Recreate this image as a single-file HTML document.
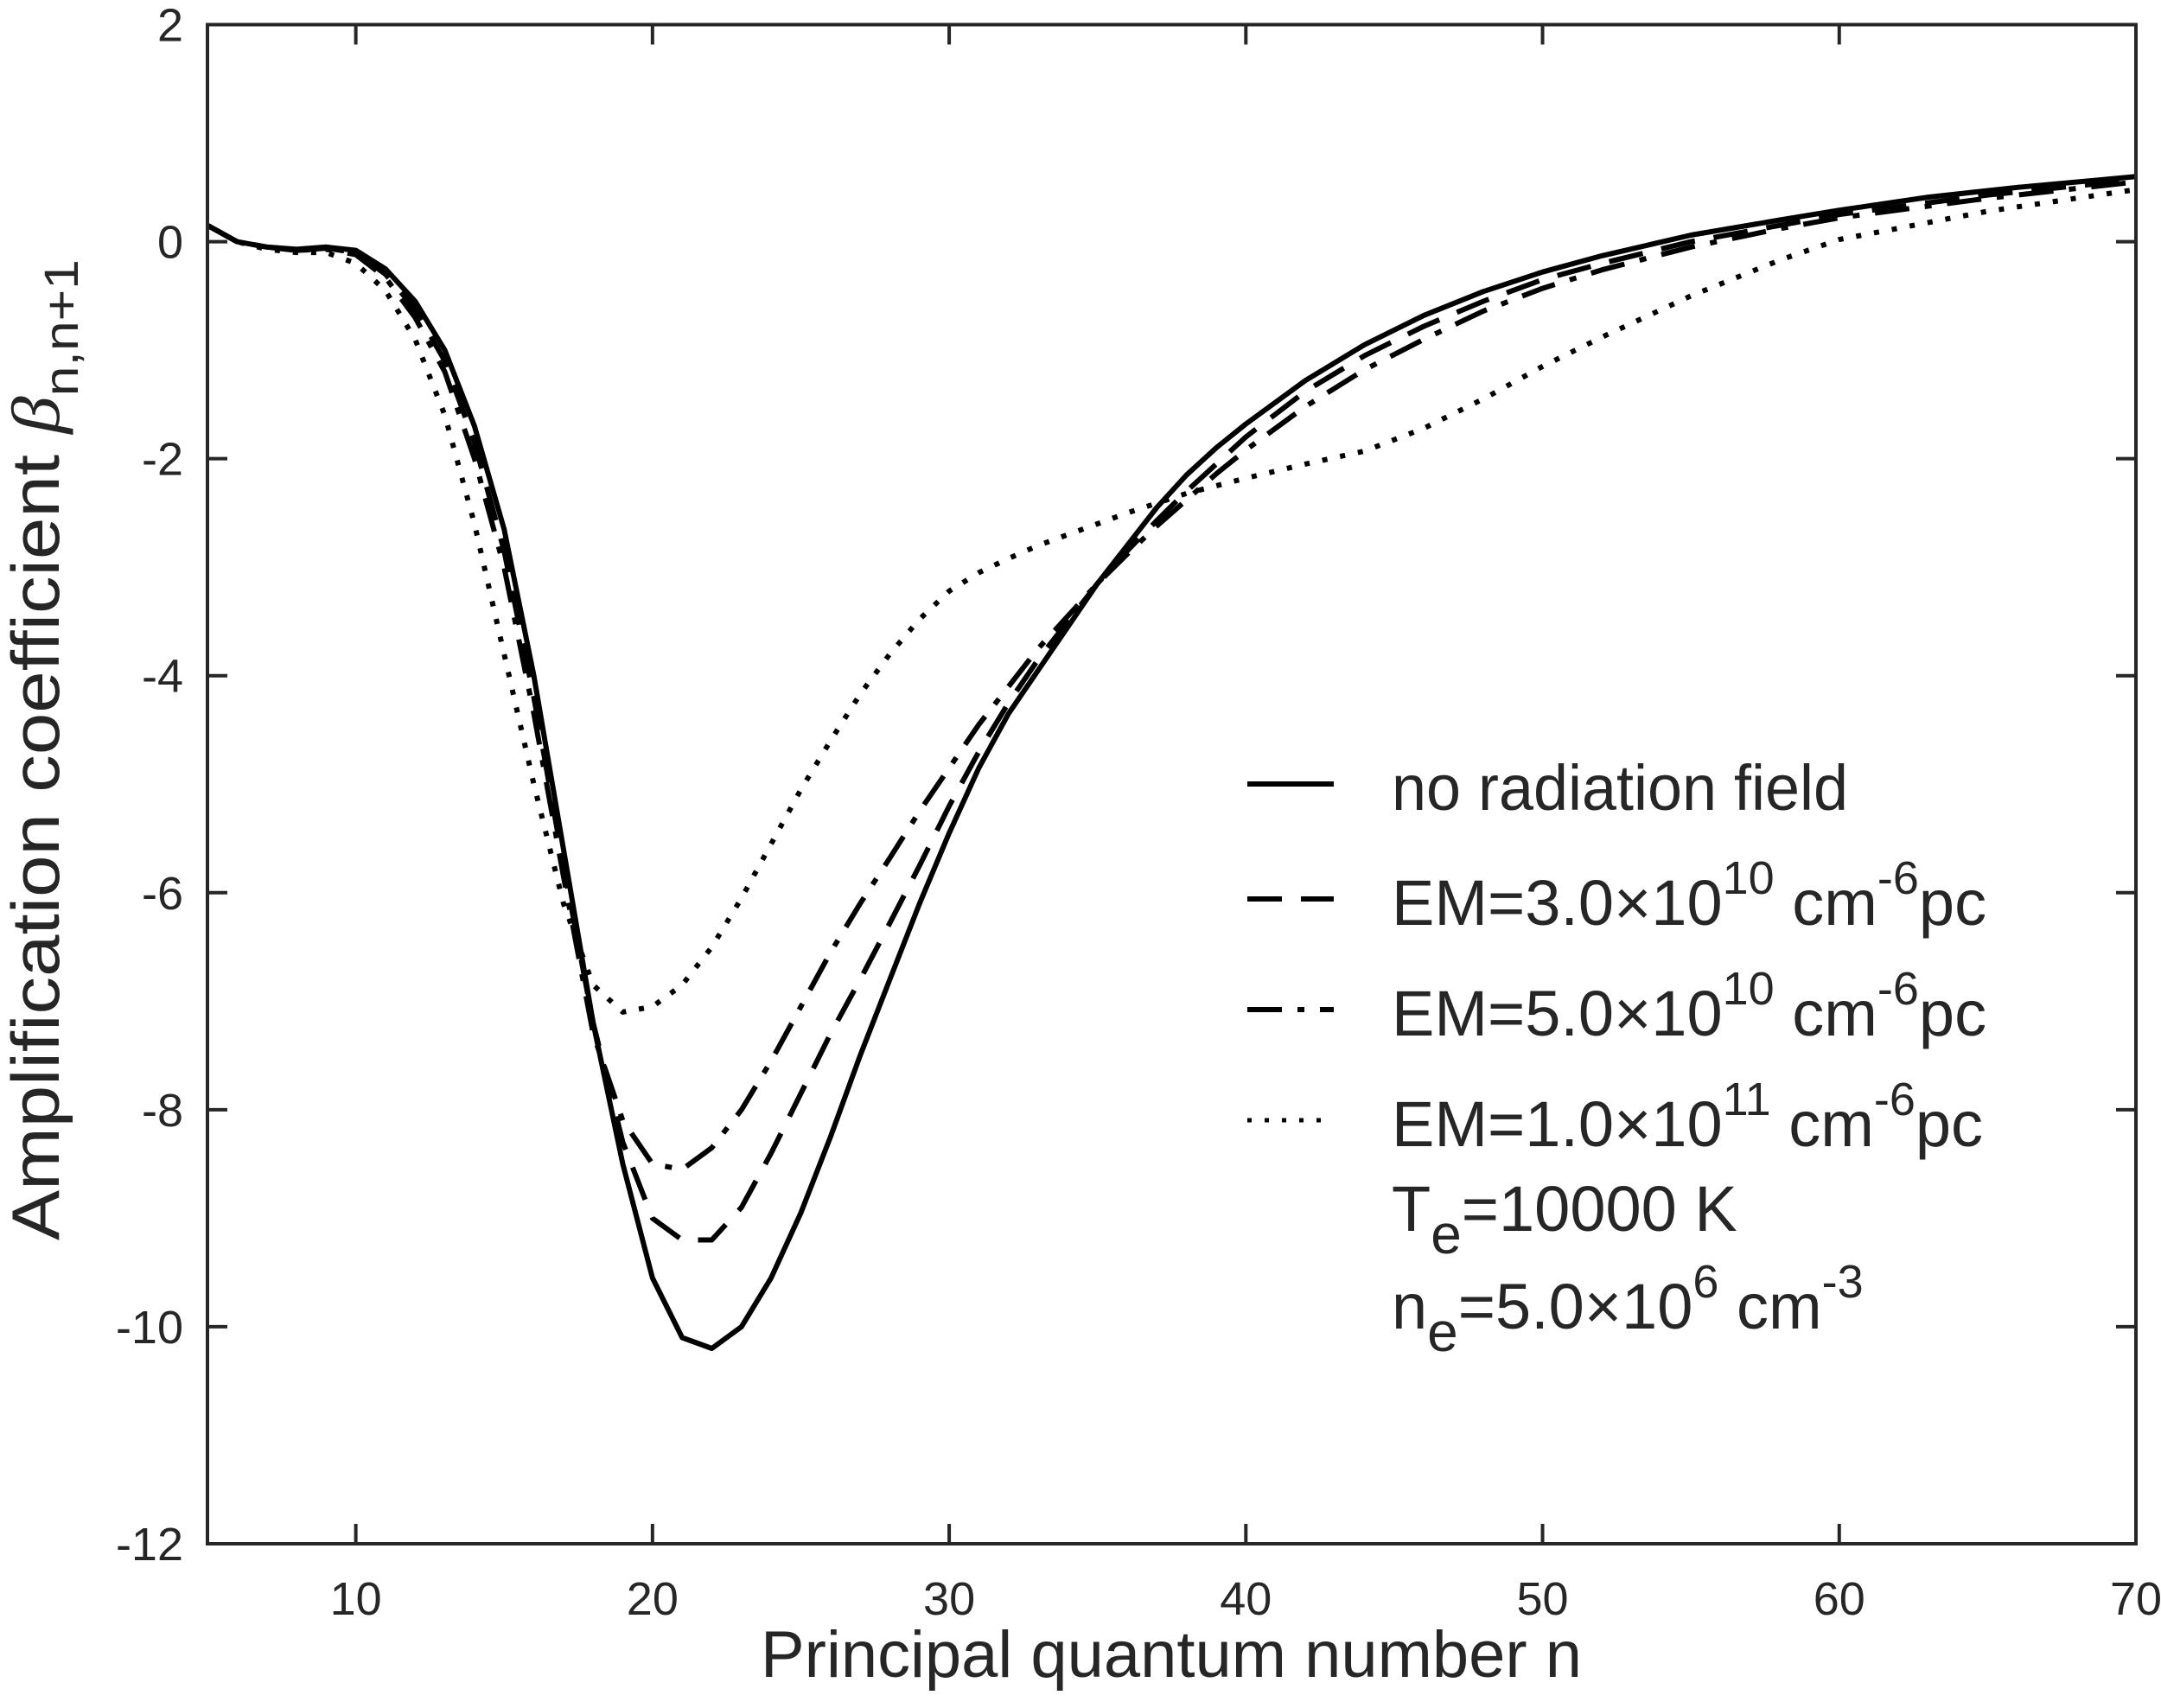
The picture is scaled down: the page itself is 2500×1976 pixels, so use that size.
<!DOCTYPE html>
<html><head><meta charset="utf-8"><style>
html,body{margin:0;padding:0;background:#fff;}
svg{display:block;}
text{font-family:"Liberation Sans",sans-serif;fill:#262626;}
</style></head><body>
<svg id="s" width="2500" height="1976" viewBox="0 0 2500 1976" xmlns="http://www.w3.org/2000/svg">
<g id="curves" fill="none" stroke="#000" stroke-width="6" stroke-linejoin="round"></g>
<rect x="240" y="28.5" width="2231" height="1757.5" fill="none" stroke="#262626" stroke-width="4"/>
<g id="ticks" stroke="#262626" stroke-width="4"></g>
<g id="labels" font-size="54"></g>
<text x="1355" y="1940" font-size="76" text-anchor="middle" textLength="950" lengthAdjust="spacingAndGlyphs">Principal quantum number n</text>
<g transform="translate(68,1435) rotate(-90)">
<text x="0" y="0" font-size="78" textLength="1135" lengthAdjust="spacingAndGlyphs">Amplification coefficient  <tspan font-family="Liberation Serif" font-style="italic">β</tspan><tspan font-size="56" dy="22">n,n+1</tspan></text>
</g>
<g font-size="74">
<line x1="1443" y1="907" x2="1543" y2="907" stroke="#000" stroke-width="6"/>
<text x="1610" y="937" textLength="528" lengthAdjust="spacingAndGlyphs">no radiation field</text>
<line x1="1443" y1="1040" x2="1543" y2="1040" stroke="#000" stroke-width="6" stroke-dasharray="40,22"/>
<text x="1610" y="1070">EM=3.0×10<tspan font-size="54" dy="-36">10</tspan><tspan dy="36"> cm</tspan><tspan font-size="54" dy="-36">-6</tspan><tspan dy="36">pc</tspan></text>
<line x1="1443" y1="1168" x2="1543" y2="1168" stroke="#000" stroke-width="6" stroke-dasharray="40,18,8,18"/>
<text x="1610" y="1198">EM=5.0×10<tspan font-size="54" dy="-36">10</tspan><tspan dy="36"> cm</tspan><tspan font-size="54" dy="-36">-6</tspan><tspan dy="36">pc</tspan></text>
<line x1="1443" y1="1296" x2="1543" y2="1296" stroke="#000" stroke-width="5" stroke-dasharray="5,15"/>
<text x="1610" y="1326">EM=1.0×10<tspan font-size="54" dy="-36">11</tspan><tspan dy="36"> cm</tspan><tspan font-size="54" dy="-36">-6</tspan><tspan dy="36">pc</tspan></text>
<text x="1610" y="1424">T<tspan font-size="64" dy="26">e</tspan><tspan dy="-26">=10000 K</tspan></text>
<text x="1610" y="1537">n<tspan font-size="64" dy="26">e</tspan><tspan dy="-26">=5.0×10</tspan><tspan font-size="54" dy="-36">6</tspan><tspan dy="36"> cm</tspan><tspan font-size="54" dy="-36">-3</tspan></text>
</g>
</svg>
<script>
var X=function(n){return 240+(n-5)*34.323;};
var Y=function(b){return 28.5+(2-b)*125.536;};
var NS="http://www.w3.org/2000/svg";
function el(p,t,a){var e=document.createElementNS(NS,t);for(var k in a)e.setAttribute(k,a[k]);p.appendChild(e);return e;}
var tk=document.getElementById('ticks'),lb=document.getElementById('labels');
for(var n=10;n<=70;n+=10){var x=X(n);
 if(n<70){el(tk,'line',{x1:x,y1:1786,x2:x,y2:1763});el(tk,'line',{x1:x,y1:28.5,x2:x,y2:51.5});}
 var t=el(lb,'text',{x:x,y:1868,'text-anchor':'middle'});t.textContent=n;}
for(var b=2;b>=-12;b-=2){var y=Y(b);
 if(b<2&&b>-12){el(tk,'line',{x1:240,y1:y,x2:263,y2:y});el(tk,'line',{x1:2471,y1:y,x2:2448,y2:y});}
 var t=el(lb,'text',{x:212,y:y+19,'text-anchor':'end'});t.textContent=b;}
var solid=[[5,.15],[6,0],[7,-.05],[8,-.07],[9,-.05],[10,-.08],[11,-.25],[12,-.55],[13,-1],[14,-1.7],[15,-2.65],[16,-4],[17,-5.6],[18,-7.2],[19,-8.5],[20,-9.55],[21,-10.1],[22,-10.2],[23,-10],[24,-9.55],[25,-8.95],[26,-8.25],[27,-7.5],[28,-6.8],[29,-6.1],[30,-5.45],[31,-4.85],[32,-4.35],[33,-3.95],[34,-3.55],[35,-3.15],[36,-2.8],[37,-2.45],[38,-2.15],[39,-1.9],[40,-1.68],[42,-1.28],[44,-0.95],[46,-0.68],[48,-0.46],[50,-0.28],[52,-0.13],[55,0.06],[58,0.2],[60,0.29],[63,0.41],[66,0.5],[70,0.6]];
var dash=[[5,.15],[6,0],[7,-.05],[8,-.08],[9,-.06],[10,-.1],[11,-.3],[12,-.62],[13,-1.1],[14,-1.85],[15,-2.85],[16,-4.2],[17,-5.75],[18,-7.2],[19,-8.3],[20,-9],[21,-9.2],[22,-9.2],[23,-8.9],[24,-8.4],[25,-7.85],[26,-7.3],[27,-6.8],[28,-6.28],[29,-5.75],[30,-5.2],[31,-4.7],[32,-4.25],[33,-3.85],[34,-3.5],[35,-3.15],[36,-2.85],[37,-2.57],[38,-2.3],[39,-2.05],[40,-1.8],[42,-1.38],[44,-1.05],[46,-0.78],[48,-0.55],[50,-0.35],[52,-0.2],[55,0],[58,0.15],[60,0.25],[65,0.43],[70,0.57]];
var dd=[[5,.15],[6,0],[7,-.05],[8,-.08],[9,-.07],[10,-.12],[11,-.33],[12,-.7],[13,-1.2],[14,-2],[15,-3],[16,-4.35],[17,-5.85],[18,-7.3],[19,-8.1],[20,-8.5],[21,-8.55],[22,-8.35],[23,-8.0],[24,-7.55],[25,-7.05],[26,-6.55],[27,-6.1],[28,-5.68],[29,-5.25],[30,-4.85],[31,-4.45],[32,-4.1],[33,-3.75],[34,-3.45],[35,-3.15],[36,-2.88],[37,-2.62],[38,-2.38],[39,-2.14],[40,-1.92],[42,-1.52],[44,-1.18],[46,-0.9],[48,-0.64],[50,-0.43],[52,-0.26],[55,-0.05],[58,0.12],[60,0.22],[65,0.4],[70,0.55]];
var dot=[[5,.15],[6,0],[7,-.07],[8,-.1],[9,-.1],[10,-.2],[11,-.45],[12,-.9],[13,-1.6],[14,-2.6],[15,-3.8],[16,-5.0],[17,-6.1],[18,-6.85],[19,-7.1],[20,-7.05],[21,-6.85],[22,-6.5],[23,-6.05],[24,-5.55],[25,-5.05],[26,-4.6],[27,-4.17],[28,-3.8],[29,-3.48],[30,-3.22],[31,-3.05],[32,-2.92],[33,-2.8],[34,-2.7],[35,-2.6],[36,-2.5],[38,-2.32],[40,-2.18],[42,-2.05],[44,-1.93],[46,-1.72],[48,-1.45],[50,-1.15],[52,-0.88],[55,-0.5],[58,-0.17],[60,0.02],[65,0.28],[70,0.48]];
var g=document.getElementById('curves');
function pl(d,da){var p=d.map(function(q){return X(q[0]).toFixed(1)+','+Y(q[1]).toFixed(1);}).join(' ');var a={points:p};if(da)a['stroke-dasharray']=da;el(g,'polyline',a);}
pl(dot,'6,15');pl(dd,'40,18,8,18');pl(dash,'40,22');pl(solid,null);
</script>
</body></html>
